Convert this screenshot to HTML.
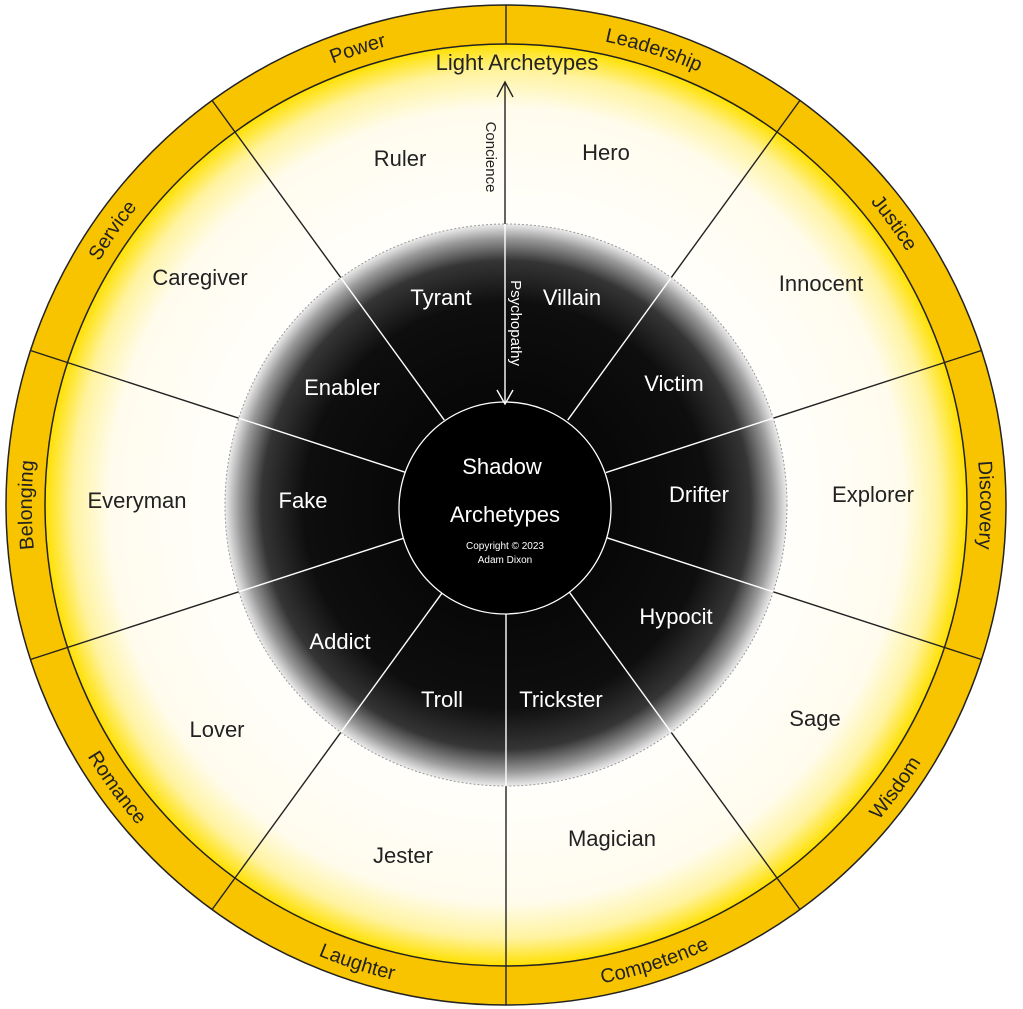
<!DOCTYPE html>
<html><head><meta charset="utf-8"><style>
html,body{margin:0;padding:0;background:#fff;}
svg{display:block;font-family:"Liberation Sans",sans-serif;}
</style></head><body>
<svg width="1023" height="1009" viewBox="0 0 1023 1009" xmlns="http://www.w3.org/2000/svg">
<defs>
<radialGradient id="lg" cx="0" cy="0" r="461" gradientUnits="userSpaceOnUse">
<stop offset="0" stop-color="#ffffff"/>
<stop offset="0.62" stop-color="#fffefa"/>
<stop offset="0.86" stop-color="#fffcee"/>
<stop offset="0.94" stop-color="#fff3a0"/>
<stop offset="1" stop-color="#ffe000"/>
</radialGradient>
<radialGradient id="dg" cx="0" cy="0" r="281" gradientUnits="userSpaceOnUse">
<stop offset="0" stop-color="#000"/>
<stop offset="0.72" stop-color="#0e0e0e"/>
<stop offset="0.87" stop-color="#353535"/>
<stop offset="0.95" stop-color="#9a9a9a"/>
<stop offset="1" stop-color="#ececec"/>
</radialGradient>
<path id="cw" d="M 0,474 A 474 474 0 1 1 0,-474 A 474 474 0 1 1 0,474"/>
<path id="ccw" d="M 0,-488 A 488 488 0 1 0 0,488 A 488 488 0 1 0 0,-488"/>
</defs>
<g transform="translate(506,505)">
<circle r="500" fill="#f8c400" stroke="#222" stroke-width="1.5"/>
<circle r="461" fill="url(#lg)" stroke="#222" stroke-width="1.5"/>
<g stroke="#222" stroke-width="1.4">
<line x1="0" y1="-461" x2="0" y2="-500"/>
<line x1="0" y1="281" x2="0" y2="500"/>
<g transform="rotate(36)"><line x1="0" y1="-281" x2="0" y2="-500"/></g>
<g transform="rotate(72)"><line x1="0" y1="-281" x2="0" y2="-500"/></g>
<g transform="rotate(108)"><line x1="0" y1="-281" x2="0" y2="-500"/></g>
<g transform="rotate(144)"><line x1="0" y1="-281" x2="0" y2="-500"/></g>
<g transform="rotate(216)"><line x1="0" y1="-281" x2="0" y2="-500"/></g>
<g transform="rotate(252)"><line x1="0" y1="-281" x2="0" y2="-500"/></g>
<g transform="rotate(288)"><line x1="0" y1="-281" x2="0" y2="-500"/></g>
<g transform="rotate(324)"><line x1="0" y1="-281" x2="0" y2="-500"/></g>
</g>
<circle r="281" fill="url(#dg)" stroke="#999" stroke-width="1" stroke-dasharray="2 2"/>
<g stroke="#fff" stroke-width="1.4">
<line x1="0" y1="105" x2="0" y2="281"/>
<g transform="rotate(36)"><line x1="0" y1="-105" x2="0" y2="-281"/></g>
<g transform="rotate(72)"><line x1="0" y1="-105" x2="0" y2="-281"/></g>
<g transform="rotate(108)"><line x1="0" y1="-105" x2="0" y2="-281"/></g>
<g transform="rotate(144)"><line x1="0" y1="-105" x2="0" y2="-281"/></g>
<g transform="rotate(216)"><line x1="0" y1="-105" x2="0" y2="-281"/></g>
<g transform="rotate(252)"><line x1="0" y1="-105" x2="0" y2="-281"/></g>
<g transform="rotate(288)"><line x1="0" y1="-105" x2="0" y2="-281"/></g>
<g transform="rotate(324)"><line x1="0" y1="-105" x2="0" y2="-281"/></g>
</g>
<circle cx="-1" cy="3" r="106" fill="#000" stroke="#fff" stroke-width="1.3"/>
<line x1="-1" y1="-423" x2="-1" y2="-281" stroke="#222" stroke-width="1.4"/>
<line x1="-1" y1="-281" x2="-1" y2="-102" stroke="#fff" stroke-width="1.4"/>
<polyline points="-9,-408 -1,-423 7,-408" fill="none" stroke="#222" stroke-width="1.4"/>
<polyline points="-9,-115 -1,-101 7,-115" fill="none" stroke="#fff" stroke-width="1.4"/>
<g font-size="20" fill="#222">
<text><textPath href="#cw" startOffset="25%" text-anchor="middle">Belonging</textPath></text>
<text><textPath href="#cw" startOffset="34.7%" text-anchor="middle">Service</textPath></text>
<text><textPath href="#cw" startOffset="45%" text-anchor="middle">Power</textPath></text>
<text><textPath href="#cw" startOffset="55%" text-anchor="middle">Leadership</textPath></text>
<text><textPath href="#cw" startOffset="65%" text-anchor="middle">Justice</textPath></text>
<text><textPath href="#cw" startOffset="75%" text-anchor="middle">Discovery</textPath></text>
<text><textPath href="#ccw" startOffset="35%" text-anchor="middle">Romance</textPath></text>
<text><textPath href="#ccw" startOffset="45%" text-anchor="middle">Laughter</textPath></text>
<text><textPath href="#ccw" startOffset="55%" text-anchor="middle">Competence</textPath></text>
<text><textPath href="#ccw" startOffset="65%" text-anchor="middle">Wisdom</textPath></text>
</g>
</g>
<g font-size="22" fill="#222" text-anchor="middle">
<text x="517" y="70">Light Archetypes</text>
<text x="400" y="166">Ruler</text>
<text x="606" y="160">Hero</text>
<text x="200" y="285">Caregiver</text>
<text x="821" y="291">Innocent</text>
<text x="137" y="508">Everyman</text>
<text x="873" y="502">Explorer</text>
<text x="217" y="737">Lover</text>
<text x="815" y="726">Sage</text>
<text x="403" y="863">Jester</text>
<text x="612" y="846">Magician</text>
</g>
<text font-size="15" fill="#222" text-anchor="middle" transform="translate(486,157) rotate(90)">Concience</text>
<text font-size="15" fill="#fff" text-anchor="middle" transform="translate(511,323) rotate(90)">Psychopathy</text>
<g font-size="22" fill="#fff" text-anchor="middle">
<text x="441" y="305">Tyrant</text>
<text x="572" y="305">Villain</text>
<text x="342" y="395">Enabler</text>
<text x="674" y="391">Victim</text>
<text x="303" y="508">Fake</text>
<text x="699" y="502">Drifter</text>
<text x="340" y="649">Addict</text>
<text x="676" y="624">Hypocit</text>
<text x="442" y="707">Troll</text>
<text x="561" y="707">Trickster</text>
<text x="502" y="474">Shadow</text>
<text x="505" y="522">Archetypes</text>
<text x="505" y="549" font-size="10">Copyright © 2023</text>
<text x="505" y="563" font-size="10">Adam Dixon</text>
</g>
</svg>
</body></html>
